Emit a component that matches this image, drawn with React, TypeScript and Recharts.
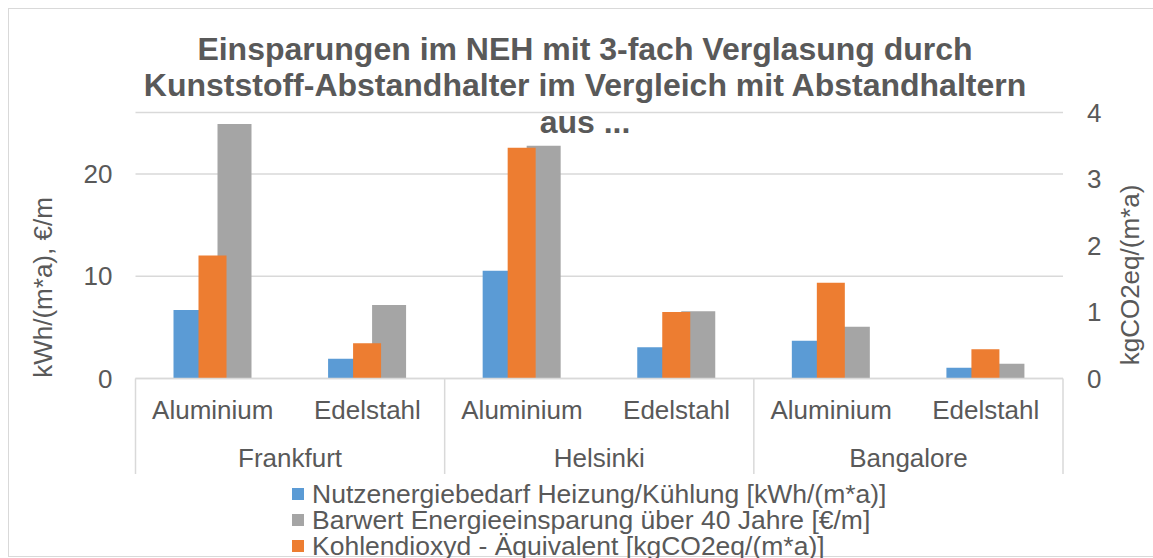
import React from 'react';
import { BarChart, Bar, XAxis, YAxis, CartesianGrid } from 'recharts';

// ---- data ----
const cities = ['Frankfurt', 'Helsinki', 'Bangalore'];
const materials = ['Aluminium', 'Edelstahl'];
const nutzenergie = [6.7, 1.94, 10.54, 3.05, 3.7, 1.06];
const barwert = [24.88, 7.18, 22.76, 6.57, 5.06, 1.45];
const co2 = [1.85, 0.53, 3.47, 1.0, 1.44, 0.44];
const leftTicks = [0, 10, 20];
const rightTicks = [0, 1, 2, 3, 4];
const titleLines = [
  'Einsparungen im NEH mit 3-fach Verglasung durch',
  'Kunststoff-Abstandhalter im Vergleich mit Abstandhaltern',
  'aus ...',
];
const leftAxisTitle = 'kWh/(m*a), €/m';
const rightAxisTitle = 'kgCO2eq/(m*a)';
const seriesNames = {
  nutz: 'Nutzenergiebedarf Heizung/Kühlung [kWh/(m*a)]',
  barwert: 'Barwert Energieeinsparung über 40 Jahre [€/m]',
  co2: 'Kohlendioxyd - Äquivalent [kgCO2eq/(m*a)]',
};
const seriesColors = { nutz: '#5B9BD5', barwert: '#A5A5A5', co2: '#ED7D31' };
const legendOrder: Array<'nutz' | 'barwert' | 'co2'> = ['nutz', 'barwert', 'co2'];

const rows = cities.flatMap((city, ci) =>
  materials.map((material, mi) => ({
    key: `${city}|${material}`,
    city,
    material,
    nutz: nutzenergie[ci * 2 + mi],
    barwert: barwert[ci * 2 + mi],
    co2: co2[ci * 2 + mi],
  }))
);

// ---- layout ----
const W = 1153;
const H = 558;
const FONT = '"Liberation Sans", Arial, sans-serif';
const TEXT = '#595959';
const GRID = '#D9D9D9';
const LEFT_W = 135.5;
const RIGHT_W = 90;
const TOP = 112.5;
const XAXIS_H = 179.5;
const SLOT = (W - LEFT_W - RIGHT_W) / rows.length;

function CategoryTick(props: any) {
  const { x, y, index } = props;
  const row = rows[index];
  if (!row) return null;
  const els: React.ReactNode[] = [];
  els.push(
    <text key="m" x={x} y={y + 40.5} textAnchor="middle" fill={TEXT} fontSize={26} fontFamily={FONT}>
      {row.material}
    </text>
  );
  if (index === 0) {
    els.push(<line key="l0" x1={x - SLOT / 2} x2={x - SLOT / 2} y1={y} y2={y + 95.5} stroke={GRID} strokeWidth={1.5} />);
  }
  if (index % 2 === 1) {
    els.push(
      <text key="c" x={x - SLOT / 2} y={y + 88.5} textAnchor="middle" fill={TEXT} fontSize={26} fontFamily={FONT}>
        {row.city}
      </text>
    );
    els.push(<line key="lr" x1={x + SLOT / 2} x2={x + SLOT / 2} y1={y} y2={y + 95.5} stroke={GRID} strokeWidth={1.5} />);
  }
  return <g>{els}</g>;
}

const axisTitle = (text: string, cx: number, cy: number) => () => (
  <text
    x={cx}
    y={cy}
    transform={`rotate(-90 ${cx} ${cy})`}
    textAnchor="middle"
    dominantBaseline="central"
    fill={TEXT}
    fontSize={26}
    fontFamily={FONT}
  >
    {text}
  </text>
);

export default function App() {
  return (
    <div style={{ position: 'absolute', left: 0, top: 0, width: W, height: H, overflow: 'hidden', background: '#fff' }}>
      <div
        style={{
          position: 'absolute',
          left: 8,
          top: 8,
          width: W - 8,
          height: 549,
          boxSizing: 'border-box',
          borderTop: `1px solid ${GRID}`,
          borderLeft: `1px solid ${GRID}`,
          borderBottom: `1px solid ${GRID}`,
        }}
      />
      <div style={{ position: 'absolute', left: 0, top: 0 }}>
        <BarChart
          width={W}
          height={H}
          data={rows}
          margin={{ top: TOP, right: 0, bottom: 0, left: 0 }}
          barGap={10}
        >
          <CartesianGrid yAxisId="left" vertical={false} stroke={GRID} strokeWidth={1.5} />
          <XAxis
            xAxisId="main"
            dataKey="key"
            height={XAXIS_H}
            interval={0}
            tickLine={false}
            tickSize={0}
            tickMargin={0}
            axisLine={{ stroke: GRID, strokeWidth: 1.5 }}
            tick={<CategoryTick />}
          />
          <XAxis xAxisId="sec" dataKey="key" hide />
          <YAxis
            yAxisId="left"
            width={LEFT_W}
            domain={[0, 26]}
            ticks={leftTicks}
            axisLine={false}
            tickLine={false}
            tickSize={0}
            tickMargin={23}
            tick={{ fill: TEXT, fontSize: 26, fontFamily: FONT }}
            label={axisTitle(leftAxisTitle, 43, 287.5)}
          />
          <YAxis
            yAxisId="right"
            orientation="right"
            width={RIGHT_W}
            domain={[0, 4]}
            ticks={rightTicks}
            axisLine={false}
            tickLine={false}
            tickSize={0}
            tickMargin={24}
            tick={{ fill: TEXT, fontSize: 26, fontFamily: FONT }}
            label={axisTitle(rightAxisTitle, 1130, 275)}
          />
          <Bar
            dataKey="nutz"
            name={seriesNames.nutz}
            xAxisId="main"
            yAxisId="left"
            fill={seriesColors.nutz}
            barSize={34}
            isAnimationActive={false}
          />
          <Bar
            dataKey="barwert"
            name={seriesNames.barwert}
            xAxisId="main"
            yAxisId="left"
            fill={seriesColors.barwert}
            barSize={34}
            isAnimationActive={false}
          />
          <Bar
            dataKey="co2"
            name={seriesNames.co2}
            xAxisId="sec"
            yAxisId="right"
            fill={seriesColors.co2}
            barSize={28}
            isAnimationActive={false}
          />
        </BarChart>
      </div>
      <div
        style={{
          position: 'absolute',
          left: 0,
          top: 30.5,
          width: W,
          paddingLeft: 17,
          boxSizing: 'border-box',
          textAlign: 'center',
          fontFamily: FONT,
          fontWeight: 'bold',
          fontSize: 32,
          lineHeight: '36.7px',
          color: TEXT,
        }}
      >
        {titleLines.map((l) => (
          <div key={l}>{l}</div>
        ))}
      </div>
      <div style={{ position: 'absolute', left: 292, top: 481, fontFamily: FONT, color: TEXT }}>
        {legendOrder.map((k) => (
          <div key={k} style={{ display: 'flex', alignItems: 'center', height: 26 }}>
            <div style={{ width: 12, height: 12, background: seriesColors[k], marginRight: 8 }} />
            <div style={{ fontSize: 26.5, lineHeight: '26px', whiteSpace: 'nowrap' }}>{seriesNames[k]}</div>
          </div>
        ))}
      </div>
    </div>
  );
}
